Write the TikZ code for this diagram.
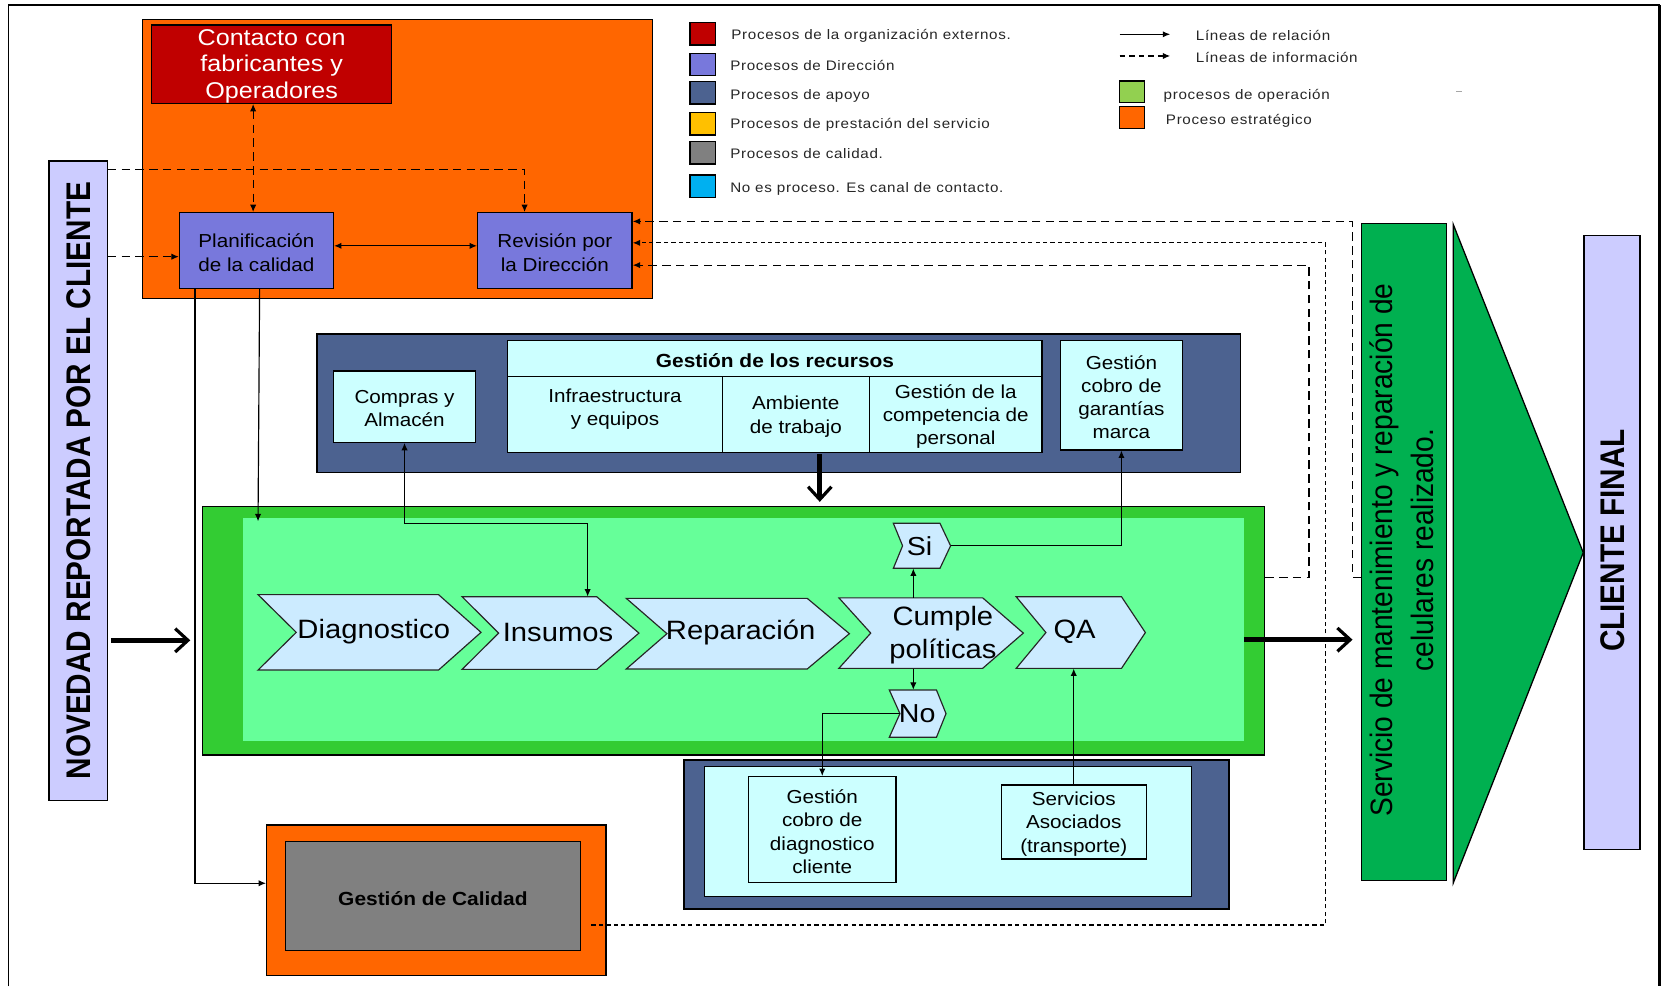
\documentclass[tikz,border=0pt]{standalone}
\usepackage{fontspec}
\setmainfont[FakeStretch=1.1]{Liberation Sans}
\newfontfamily\rotfont{Liberation Sans}
\newfontfamily\legendfont[LetterSpace=5,FakeStretch=1.1]{Liberation Sans}
\usetikzlibrary{arrows.meta,fit,calc}

\definecolor{strat}{HTML}{FF6600}
\definecolor{extred}{HTML}{C00000}
\definecolor{dirpurple}{RGB}{120,120,220}
\definecolor{apoyo}{RGB}{76,98,144}
\definecolor{lightcyan}{HTML}{CCFFFF}
\definecolor{opouter}{HTML}{33CC33}
\definecolor{opinner}{HTML}{66FF99}
\definecolor{chevblue}{HTML}{CCEBFF}
\definecolor{quality}{HTML}{808080}
\definecolor{servgreen}{HTML}{00B050}
\definecolor{lavender}{HTML}{CCCCFF}
\definecolor{legyellow}{HTML}{FFC000}
\definecolor{legcyan}{HTML}{00B0F0}
\definecolor{leggreen}{HTML}{92D050}

\newcommand\fsbox{\fontsize{17.7}{21.8}\selectfont}
\newcommand\fscont{\fontsize{21.5}{25.2}\selectfont}
\newcommand\fschev{\fontsize{25}{31.5}\selectfont}
\newcommand\fsbold{\fontsize{17.9}{21}\selectfont\bfseries}
\newcommand\fslegend{\legendfont\fontsize{13}{15}\selectfont}

% chevron: name, x0, x1, ytop, ybottom, notch depth, tip depth
\newcommand\chev[7]{%
  \pgfmathsetmacro\cym{(#4+#5)/2}%
  \draw[chevshape] (#2,#4) -- ({#3-#7},#4) -- (#3,\cym) -- ({#3-#7},#5)
        -- (#2,#5) -- ({#2+#6},\cym) -- cycle;
  \node[inner sep=0pt, fit={(#2,#4) (#3,#5)}] (#1) {};
  \coordinate (#1-in) at ({#2+#6},\cym);
}

\begin{document}
\begin{tikzpicture}[x=1pt,y=-1pt,
  >={Latex[length=7pt,width=6pt]},
  box/.style={draw=black, line width=1.2pt, inner sep=0pt},
  plain/.style={inner sep=0pt, align=center},
  boxtext/.style={inner sep=0pt, align=center, font=\fsbox, yshift=-2pt},
  chevshape/.style={draw=black!85, line width=1.1pt, fill=chevblue, line join=miter},
  chevtext/.style={inner sep=0pt, align=center, font=\fschev},
  legsq/.style={draw=black, line width=1.4pt, inner sep=0pt},
  legtext/.style={inner sep=0pt, anchor=west, font=\fslegend, text=black!85, yshift=-1.5pt},
  rel/.style={line width=1.1pt, ->},
  relboth/.style={line width=1.1pt, <->},
  info/.style={line width=1.1pt, dash pattern=on 8pt off 5pt, ->},
  infoboth/.style={line width=1.1pt, dash pattern=on 8pt off 5pt, <->},
  infofine/.style={line width=1.1pt, dash pattern=on 4pt off 3pt, ->},
  flow/.style={line width=5pt, -{Straight Barb[length=12pt,width=22pt,line width=3pt]}},
]
\useasboundingbox (0,0) rectangle (1568,929);
\fill[white] (0,0) rectangle (1568,929);

% page frame (open at the bottom)
\draw[line width=1pt] (7.6,929) -- (7.6,4.7);
\draw[line width=1.8pt] (7.6,4.7) -- (1563,4.7);
\draw[line width=2.6pt] (1563,4.7) -- (1563,929);

% ---------- legend ----------
\node[legsq, fill=extred,    fit={(649.6,21.3) (674,42.4)}]   (lg1) {};
\node[legsq, fill=dirpurple, fit={(649.6,50.2) (674,71.3)}]   (lg2) {};
\node[legsq, fill=apoyo,     fit={(649.6,76.6) (674,97.9)}]   (lg3) {};
\node[legsq, fill=legyellow, fit={(649.6,106.1) (674,127.1)}] (lg4) {};
\node[legsq, fill=quality,   fit={(649.6,133.1) (674,154.4)}] (lg5) {};
\node[legsq, fill=legcyan,   fit={(649.6,164.8) (674,185.8)}] (lg6) {};
\node[legtext] (lg1t) at (688.5,32.3)  {Procesos de la organización externos.};
\node[legtext] (lg2t) at (687.5,60.3)  {Procesos de Dirección};
\node[legtext] (lg3t) at (687.5,88.5)  {Procesos de apoyo};
\node[legtext] (lg4t) at (687.5,116.1) {Procesos de prestación del servicio};
\node[legtext] (lg5t) at (687.5,142.8) {Procesos de calidad.};
\node[legtext] (lg6t) at (687.5,176.4) {No es proceso. Es canal de contacto.};

\coordinate (lra) at (1054.5,32.3);  \coordinate (lrb) at (1102,32.3);
\coordinate (lia) at (1054.5,52.7);  \coordinate (lib) at (1102,52.7);
\draw[rel] (lra) -- (lrb);
\draw[line width=1.1pt, dash pattern=on 5pt off 4pt, ->] (lia) -- (lib);
\node[legtext] (lr1) at (1126,32.3) {Líneas de relación};
\node[legtext] (lr2) at (1126,52.7) {Líneas de información};
\node[legsq, fill=leggreen, fit={(1054.5,76.3) (1077.6,96.7)}]  (lg7) {};
\node[legsq, fill=strat,    fit={(1054.5,100.4) (1077.6,120.9)}] (lg8) {};
\node[legtext] (lg7t) at (1095.7,88.5) {procesos de operación};
\node[legtext] (lg8t) at (1097.8,112)  {Proceso estratégico};
\draw[black!35, line width=1pt] (1371.5,86.5) -- (1376.5,86.5);

% ---------- strategic processes ----------
\node[box, fill=strat, fit={(134.5,18.2) (614.6,281)}] (strat) {};
\node[box, fill=extred, fit={(143,23.5) (368.7,97.3)}] (contacto) {};
\node[boxtext, text=white, font=\fscont] (contacto-t) at (contacto.center)
      {Contacto con\\fabricantes y\\Operadores};
\node[box, fill=dirpurple, fit={(169,200.3) (314,271.5)}] (plan) {};
\node[boxtext] (plan-t) at (plan.center) {Planificación\\de la calidad};
\node[box, fill=dirpurple, fit={(449.8,200.3) (595.3,271.5)}] (rev) {};
\node[boxtext] (rev-t) at (rev.center) {Revisión por\\la Dirección};

% ---------- client input ----------
\node[box, fill=lavender, fit={(46.2,151.6) (100.9,753.6)}] (novedad) {};
\node[plain, rotate=90] (novedad-t) at (73.8,452.6)
  {\scalebox{1}[1.15]{\rotfont\bfseries\fontsize{28}{30}\selectfont NOVEDAD REPORTADA POR EL CLIENTE}};

% ---------- support processes ----------
\node[box, fill=apoyo, fit={(298.5,314.5) (1168,444.8)}] (apoyo) {};
\node[box, fill=lightcyan, fit={(478.2,320.8) (981.4,354.7)}] (recursos) {};
\node[boxtext, font=\fsbold] (recursos-t) at (recursos.center) {Gestión de los recursos};
\node[box, fill=lightcyan, fit={(478.2,354.7) (680.1,425.9)}] (infra) {};
\node[boxtext] (infra-t) at (579.2,383.4) {Infraestructura\\y equipos};
\node[box, fill=lightcyan, fit={(680.1,354.7) (818.8,425.9)}] (amb) {};
\node[boxtext] (amb-t) at (amb.center) {Ambiente\\de trabajo};
\node[box, fill=lightcyan, fit={(818.8,354.7) (981.4,425.9)}] (compet) {};
\node[boxtext] (compet-t) at (compet.center) {Gestión de la\\competencia de\\personal};
\node[box, fill=lightcyan, fit={(313.9,349.3) (448,416.5)}] (compras) {};
\node[boxtext] (compras-t) at (compras.center) {Compras y\\Almacén};
\node[box, fill=lightcyan, fit={(998.5,320.8) (1113.7,423.7)}] (garant) {};
\node[boxtext] (garant-t) at (garant.center) {Gestión\\cobro de\\garantías\\marca};

% ---------- operation processes ----------
\node[box, fill=opouter, fit={(190.8,477.2) (1191,711)}] (op) {};
\node[inner sep=0pt, fill=opinner, fit={(228.4,488.2) (1171.1,697.5)}] (opin) {};

\chev{diag}{243}{453}{560}{631}{36}{40}
\chev{insumos}{435.2}{601.7}{562}{630.4}{34.4}{39.7}
\chev{repar}{589.8}{799.9}{563.5}{630}{38.3}{39.7}
\chev{cumple}{790}{963.7}{563}{629.4}{30}{38.3}
\chev{qa}{957}{1078.6}{562}{629.4}{28}{22.4}
\chev{si}{841.3}{895.2}{492.8}{535.2}{8.7}{10}
\chev{no}{837.5}{890.9}{649.8}{694.3}{10}{9}

\node[chevtext] (diag-t) at (352,595) {Diagnostico};
\node[chevtext] (insumos-t) at (525.5,596) {Insumos};
\node[chevtext] (repar-t) at (697.5,596) {Reparación};
\node[chevtext] (cumple-t) at (888,598) {Cumple\\políticas};
\node[chevtext] (qa-t) at (1012,595) {QA};
\node[chevtext, font=\fontsize{24.5}{26}\selectfont] (si-t) at (866,514) {Si};
\node[chevtext, font=\fontsize{24.5}{26}\selectfont] (no-t) at (863.7,672) {No};

% ---------- lower support processes ----------
\node[box, fill=apoyo, fit={(644.2,715.7) (1157.4,856)}] (apoyo2) {};
\node[box, fill=lightcyan, fit={(663.3,722) (1122.4,844.4)}] (apoyo2in) {};
\node[box, fill=lightcyan, fit={(705,731.4) (843.7,830.9)}] (cobrodiag) {};
\node[boxtext] (cobrodiag-t) at (cobrodiag.center) {Gestión\\cobro de\\diagnostico\\cliente};
\node[box, fill=lightcyan, fit={(942.8,739.2) (1079.5,808.9)}] (servicios) {};
\node[boxtext] (servicios-t) at (servicios.center) {Servicios\\Asociados\\(transporte)};

% ---------- quality management ----------
\node[box, fill=strat, fit={(251.1,776.9) (570.8,918.8)}] (calidad) {};
\node[box, fill=quality, fit={(269,792.6) (546.4,895.3)}] (calgray) {};
\node[boxtext, font=\fsbold] (calgray-t) at (calgray.center) {Gestión de Calidad};

% ---------- output and final client ----------
\node[box, fill=servgreen, fit={(1282.3,210.2) (1362.3,829.4)}] (serv) {};
\node[plain, rotate=90] (serv-t) at (1322.3,518)
  {\scalebox{1}[1.1]{\rotfont\fontsize{26.5}{37}\selectfont
   \begin{tabular}{@{}c@{}}Servicio de mantenimiento y reparación de\\[-1.5pt]celulares realizado.\end{tabular}}};
\draw[fill=servgreen, line width=1.2pt, line join=miter]
  (1368.6,211.4) -- (1491,520.4) -- (1368.6,831.5) -- cycle;
\node[box, fill=lavender, fit={(1491.7,221.9) (1544.4,800)}] (cliente) {};
\node[plain, rotate=90] (cliente-t) at (1518.5,509)
  {\scalebox{1}[1.15]{\rotfont\bfseries\fontsize{28}{30}\selectfont CLIENTE FINAL}};

% ---------- connectors ----------
% routing coordinates
\coordinate (xcontact) at (238.4,0);
\coordinate (xrevtop) at (494,0);
\coordinate (ynovtop) at (0,159.5);
\coordinate (ynovplan) at (0,241.7);
\coordinate (yplanrev) at (0,231.5);
\coordinate (xplanA) at (183.7,0);
\coordinate (xplanB) at (244.5,0);
\coordinate (ycal) at (0,831.8);
\coordinate (cmpturn) at (553.4,492.9);
\coordinate (xcumple) at (860.1,0);
\coordinate (xamb) at (772,0);
\coordinate (yflowin) at (0,603);
\coordinate (yflowout) at (0,602.4);
\coordinate (yfb) at (0,543.5);
\coordinate (yrevA) at (0,208.5);
\coordinate (yrevB) at (0,228.7);
\coordinate (yrevC) at (0,249.7);
\coordinate (xfbA) at (1273.5,0);
\coordinate (xfbB) at (1248.4,0);
\coordinate (xfbC) at (1232.7,0);
\coordinate (ycalfb) at (0,871.1);

% information lines around the strategic block
\draw[infoboth] (xcontact |- contacto.south) -- (xcontact |- plan.north);
\draw[info] (novedad.east |- ynovtop) -- (xrevtop |- ynovtop) -- (xrevtop |- rev.north);
\draw[info] (novedad.east |- ynovplan) -- (plan.west |- ynovplan);
\draw[relboth] (plan.east |- yplanrev) -- (rev.west |- yplanrev);

% planning to operation and to quality management
\draw[rel] (xplanB |- plan.south) -- ($(xplanB |- opin.north)+(-1.5,3)$);
\draw[rel] (xplanA |- plan.south) -- (xplanA |- ycal) -- (calidad.west |- ycal);

% supplies and operation flow
\draw[relboth] (compras.south) |- (cmpturn) -- (cmpturn |- insumos.north);
\draw[rel] (xcumple |- cumple.north) -- (xcumple |- si.south);
\draw[rel] (xcumple |- cumple.south) -- (xcumple |- no.north);
\draw[rel] (si.east) -| (garant.south);
\draw[rel] (no-in) -| (cobrodiag.north);
\draw[rel] (servicios.north) -- (servicios.north |- qa.south);

% main flow arrows
\draw[flow, shorten <=3pt, shorten >=11pt] (novedad.east |- yflowin) -- (op.west |- yflowin);
\draw[flow, shorten <=1pt, shorten >=4pt] (xamb |- amb.south) -- (xamb |- op.north);
\draw[flow, shorten >=8pt] (opin.east |- yflowout) -- (serv.west |- yflowout);

% feedback to management review
\draw[info] (serv.west |- yfb) -- (xfbA |- yfb) -- (xfbA |- yrevA) -- (rev.east |- yrevA);
\draw[info] (op.east |- yfb) -- (xfbC |- yfb) -- (xfbC |- yrevC) -- (rev.east |- yrevC);
\draw[infofine, shorten <=10pt] (calgray.east |- ycalfb) -- (xfbB |- ycalfb) -- (xfbB |- yrevB) -- (rev.east |- yrevB);
\end{tikzpicture}
\end{document}
